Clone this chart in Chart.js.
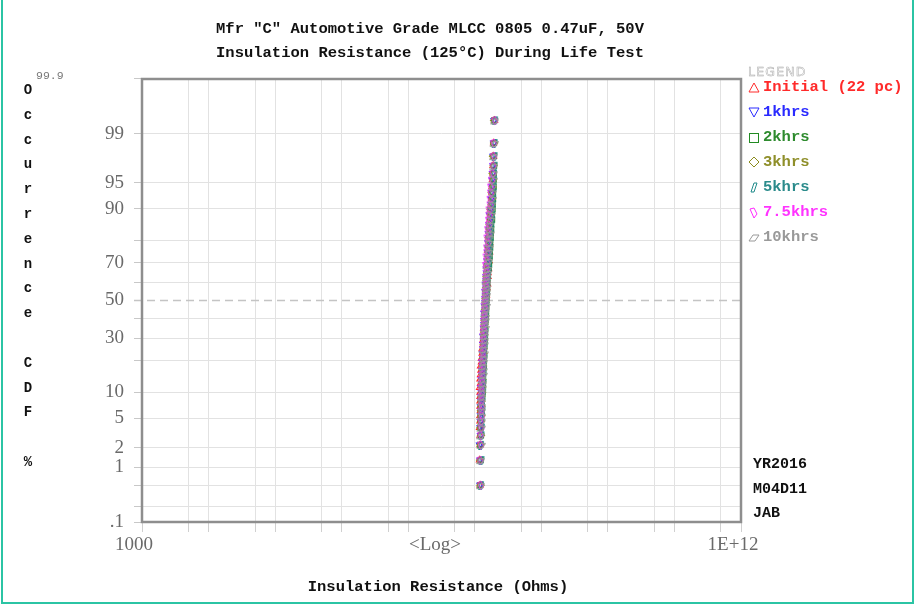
<!DOCTYPE html>
<html>
<head>
<meta charset="utf-8">
<script src="https://cdn.jsdelivr.net/npm/chart.js@4/dist/chart.umd.min.js"></script>
<style>
  body { margin: 0; background: #fff; }
  #wrap { position: relative; width: 914px; height: 606px; overflow: hidden; }
  #frameBox { position: absolute; left: 1px; top: -4px; width: 909px; height: 604px; border: 2px solid #2bc4a4; pointer-events: none; }
  .mono { font-family: 'Liberation Mono', 'Courier New', monospace; font-weight: bold; position: absolute; white-space: pre; }
  #title { left: 0; top: 17px; width: 860px; text-align: center; font-size: 15.5px; line-height: 24px; color: #111; }
  #ytitle { left: 20px; top: 78px; width: 16px; text-align: center; font-size: 14px; line-height: 24.8px; color: #111; }
  #top999 { position: absolute; left: 36px; top: 69px; font: 11.5px 'Liberation Mono', monospace; color: #777; }
  #legHead { position: absolute; left: 748px; top: 64px; font: 12.5px 'DejaVu Sans', sans-serif; letter-spacing: 1.2px; color: transparent; -webkit-text-stroke: 0.5px #a8a8a8; }
  .leg { position: absolute; left: 748px; height: 20px; display: flex; align-items: center; }
  .leg span { font-family: 'Liberation Mono', monospace; font-weight: bold; font-size: 15.5px; margin-left: 2px; }
  .side { font-size: 15px; color: #111; left: 753px; }
  #logLbl { position: absolute; left: 405px; top: 533px; width: 60px; text-align: center; font: 19px 'Liberation Serif', serif; color: #6a6a6a; }
  #xtitle { left: 238px; top: 578px; width: 400px; text-align: center; font-size: 15.5px; color: #111; }
</style>
</head>
<body>
<div id="wrap">
  <canvas id="irChart"></canvas>
  <div id="title" class="mono">Mfr "C" Automotive Grade MLCC 0805 0.47uF, 50V
Insulation Resistance (125°C) During Life Test</div>
  <div id="ytitle" class="mono">O
c
c
u
r
r
e
n
c
e

C
D
F

%</div>
  <div id="top999">99.9</div>
  <div id="legHead">LEGEND</div>
  <div id="legend"></div>
  <div class="mono side" style="top:456px">YR2016</div>
  <div class="mono side" style="top:481px">M04D11</div>
  <div class="mono side" style="top:505px">JAB</div>
  <div id="logLbl">&lt;Log&gt;</div>
  <div id="xtitle" class="mono">Insulation Resistance (Ohms)</div>
  <div id="frameBox"></div>
</div>
<script>
// cumulative occurrence (%) shared by every series
const cdfPct = [0.5, 1.3, 2.2, 3.0, 3.8, 4.6, 5.4, 6.2, 7.0, 8.0, 9.0, 10.0, 11.2, 12.4, 13.6, 15, 16.5, 18, 19.5, 21,
  23, 25, 27, 29, 31, 33, 35, 37, 39, 41, 43, 45, 47, 49, 51, 53, 55, 57, 59, 61, 63, 65, 67, 69, 71, 73, 75, 77, 79, 81,
  82.5, 84, 85.5, 87, 88.4, 89.8, 91, 92.2, 93.4, 94.4, 95.4, 96.2, 97, 97.8, 98.6, 99.4];

// insulation resistance, in units of 1E+8 Ohms
const irInitial = [1.20,1.18,1.20,1.20,1.18,1.20,1.20,1.22,1.20,1.20, 1.20,1.20,1.18,1.22,1.20,1.22,1.24,1.22,1.26,1.26,
  1.29,1.29,1.33,1.33,1.36,1.38,1.36,1.38,1.43,1.40, 1.43,1.43,1.45,1.45,1.48,1.50,1.48,1.53,1.56,1.53,
  1.58,1.58,1.61,1.58,1.64,1.61,1.67,1.64,1.67,1.64, 1.70,1.67,1.70,1.70,1.73,1.73,1.76,1.79,1.82,1.82,
  1.85,1.88,1.88,1.92,1.92,1.98];
const ir1k = [1.20,1.20,1.18,1.22,1.20,1.22,1.22,1.24,1.22,1.24, 1.24,1.26,1.24,1.29,1.26,1.29,1.29,1.31,1.29,1.33,
  1.31,1.33,1.33,1.36,1.33,1.38,1.36,1.38,1.38,1.40, 1.38,1.43,1.40,1.43,1.43,1.45,1.43,1.48,1.45,1.48,
  1.48,1.50,1.50,1.53,1.53,1.56,1.56,1.58,1.58,1.61, 1.61,1.64,1.64,1.70,1.67,1.73,1.76,1.76,1.79,1.82,
  1.82,1.85,1.88,1.88,1.92,1.95];
const ir2k = [1.20,1.22,1.20,1.24,1.22,1.24,1.24,1.26,1.24,1.26, 1.29,1.31,1.29,1.33,1.31,1.33,1.33,1.36,1.33,1.38,
  1.36,1.38,1.38,1.40,1.38,1.43,1.40,1.43,1.43,1.45, 1.43,1.48,1.45,1.48,1.48,1.50,1.48,1.53,1.50,1.53,
  1.53,1.56,1.61,1.64,1.64,1.67,1.67,1.70,1.70,1.73, 1.73,1.76,1.76,1.82,1.79,1.85,1.85,1.88,1.88,1.92,
  1.92,1.92,1.95,1.92,1.92,1.95];
const ir3k = [1.22,1.20,1.22,1.24,1.22,1.24,1.26,1.24,1.26,1.26, 1.26,1.29,1.29,1.29,1.31,1.31,1.31,1.33,1.33,1.33,
  1.36,1.36,1.36,1.38,1.38,1.38,1.40,1.40,1.40,1.43, 1.43,1.43,1.45,1.45,1.45,1.48,1.48,1.48,1.50,1.50,
  1.50,1.53,1.56,1.53,1.58,1.58,1.58,1.61,1.64,1.61, 1.67,1.67,1.67,1.73,1.73,1.73,1.79,1.82,1.79,1.85,
  1.88,1.85,1.92,1.88,1.95,1.95];
const ir5k = [1.20,1.22,1.20,1.22,1.24,1.22,1.24,1.26,1.24,1.26, 1.26,1.29,1.26,1.31,1.29,1.31,1.31,1.33,1.31,1.36,
  1.33,1.36,1.36,1.38,1.36,1.40,1.38,1.40,1.40,1.43, 1.43,1.43,1.45,1.45,1.45,1.48,1.48,1.50,1.50,1.53,
  1.53,1.56,1.58,1.58,1.61,1.61,1.64,1.64,1.67,1.67, 1.70,1.70,1.73,1.76,1.76,1.79,1.82,1.82,1.85,1.85,
  1.88,1.88,1.92,1.92,1.92,1.95];
const ir7k5 = [1.20,1.18,1.20,1.20,1.22,1.20,1.24,1.22,1.24,1.22, 1.22,1.24,1.22,1.26,1.24,1.26,1.26,1.29,1.26,1.31,
  1.29,1.31,1.31,1.33,1.31,1.36,1.33,1.36,1.36,1.38, 1.36,1.40,1.38,1.40,1.40,1.43,1.40,1.45,1.43,1.45,
  1.45,1.48,1.45,1.43,1.48,1.45,1.50,1.48,1.53,1.50, 1.56,1.53,1.58,1.58,1.61,1.61,1.67,1.67,1.70,1.70,
  1.76,1.82,1.85,1.88,1.88,1.95];
const ir10k = [1.20,1.20,1.22,1.20,1.22,1.24,1.22,1.24,1.26,1.24, 1.24,1.26,1.29,1.29,1.26,1.31,1.31,1.29,1.33,1.33,
  1.36,1.31,1.36,1.38,1.36,1.36,1.40,1.38,1.40,1.43, 1.38,1.43,1.45,1.43,1.43,1.48,1.45,1.48,1.50,1.45,
  1.50,1.53,1.53,1.50,1.58,1.56,1.58,1.61,1.58,1.61, 1.67,1.64,1.64,1.70,1.73,1.73,1.73,1.79,1.82,1.82,
  1.85,1.88,1.88,1.88,1.92,1.95];

const seriesNames = ['Initial (22 pc)', '1khrs', '2khrs', '3khrs', '5khrs', '7.5khrs', '10khrs'];
const seriesData = [irInitial, ir1k, ir2k, ir3k, ir5k, ir7k5, ir10k];
const seriesColors = ['#ff2a2a', '#2a2aff', '#228b22', '#8c8c1e', '#1f8a8a', '#ff2aff', '#999999'];
const textColors = ['#ff2a2a', '#2a2aff', '#2e8b2e', '#8f8f2a', '#2b8b8b', '#ff33ff', '#999999'];

// axis grid / labels
const yGridPct = [0.1, 0.2, 0.5, 1, 2, 5, 10, 20, 30, 40, 50, 60, 70, 80, 90, 95, 99, 99.9];
const yLabels = { 0.1: '.1', 1: '1', 2: '2', 5: '5', 10: '10', 30: '30', 50: '50', 70: '70', 90: '90', 95: '95', 99: '99' };
const xGrid = [1e3, 5e3, 1e4, 5e4, 1e5, 5e5, 1e6, 5e6, 1e7, 5e7, 1e8, 5e8, 1e9, 5e9, 1e10, 5e10, 1e11, 5e11, 1e12];

// inverse normal cdf (Acklam) for the probability axis
function probit(p) {
  const a = [-3.969683028665376e+01, 2.209460984245205e+02, -2.759285104469687e+02, 1.383577518672690e+02, -3.066479806614716e+01, 2.506628277459239e+00];
  const b = [-5.447609879822406e+01, 1.615858368580409e+02, -1.556989798598866e+02, 6.680131188771972e+01, -1.328068155288572e+01];
  const c = [-7.784894002430293e-03, -3.223964580411365e-01, -2.400758277161838e+00, -2.549732539343734e+00, 4.374664141464968e+00, 2.938163982698783e+00];
  const d = [7.784695709041462e-03, 3.224671290700398e-01, 2.445134137142996e+00, 3.754408661907416e+00];
  const pl = 0.02425;
  if (p < pl) {
    const q = Math.sqrt(-2 * Math.log(p));
    return (((((c[0]*q+c[1])*q+c[2])*q+c[3])*q+c[4])*q+c[5]) / ((((d[0]*q+d[1])*q+d[2])*q+d[3])*q+1);
  }
  if (p > 1 - pl) {
    const q = Math.sqrt(-2 * Math.log(1 - p));
    return -(((((c[0]*q+c[1])*q+c[2])*q+c[3])*q+c[4])*q+c[5]) / ((((d[0]*q+d[1])*q+d[2])*q+d[3])*q+1);
  }
  const q = p - 0.5, r = q * q;
  return (((((a[0]*r+a[1])*r+a[2])*r+a[3])*r+a[4])*r+a[5])*q / (((((b[0]*r+b[1])*r+b[2])*r+b[3])*r+b[4])*r+1);
}

// marker shapes (outline polygons in a 10x10 box)
const shapes = [
  null, null, null, null,
  [[3,9],[5,1],[8,1],[6,9]],        // 5khrs leaning
  [[2,2],[6,1],[8,6],[5,9]],        // 7.5khrs kite
  [[1,8],[4,3],[9,3],[6,8]]         // 10khrs flat
];
function shapeCanvas(pts, color) {
  const cv = document.createElement('canvas');
  cv.width = 10; cv.height = 10;
  const g = cv.getContext('2d');
  g.strokeStyle = color; g.lineWidth = 1;
  g.beginPath();
  pts.forEach((p, i) => i ? g.lineTo(p[0] + 0.5, p[1] + 0.5) : g.moveTo(p[0] + 0.5, p[1] + 0.5));
  g.closePath(); g.stroke();
  return cv;
}
const pointStyles = ['triangle', 'triangle', 'rect', 'rectRot',
  shapeCanvas(shapes[4], seriesColors[4]), shapeCanvas(shapes[5], seriesColors[5]), shapeCanvas(shapes[6], seriesColors[6])];

// legend
const legSvg = [
  '<polygon points="1,11 6,2 11,11" />',
  '<polygon points="1,2 11,2 6,11" />',
  '<rect x="1.5" y="2.5" width="9" height="9" />',
  '<polygon points="6,1 11,6 6,11 1,6" />',
  '<polygon points="3,11 6,2 9,2 6,11" />',
  '<polygon points="2,3 6,2 9,8 6,12" />',
  '<polygon points="1,10 5,4 11,4 7,10" />'
];
const legend = document.getElementById('legend');
seriesNames.forEach((n, i) => {
  const row = document.createElement('div');
  row.className = 'leg';
  row.style.top = (77 + 25 * i) + 'px';
  row.innerHTML = '<svg width="13" height="13"><g fill="none" stroke="' + seriesColors[i] + '" stroke-width="1">' + legSvg[i] +
    '</g></svg><span style="color:' + textColors[i] + '">' + n + '</span>';
  legend.appendChild(row);
});

const plotDecor = {
  id: 'plotDecor',
  beforeDatasetsDraw(chart) {
    const { ctx, chartArea: a } = chart;
    const y = chart.scales.y.getPixelForValue(0);
    ctx.save();
    ctx.strokeStyle = '#c4c4c4';
    ctx.lineWidth = 1.5;
    ctx.setLineDash([8, 5]);
    ctx.beginPath();
    ctx.moveTo(a.left - 8, y);
    ctx.lineTo(a.right, y);
    ctx.stroke();
    ctx.restore();
  },
  afterDraw(chart) {
    const { ctx, chartArea: a } = chart;
    ctx.save();
    ctx.strokeStyle = '#8e8e8e';
    ctx.lineWidth = 2.5;
    ctx.strokeRect(a.left, a.top, a.right - a.left, a.bottom - a.top);
    ctx.restore();
  }
};

const datasets = seriesData.map((vals, i) => ({
  label: seriesNames[i],
  data: vals.map((v, k) => ({ x: v * 1e8, y: probit(cdfPct[k] / 100) })),
  pointStyle: pointStyles[i],
  rotation: i === 1 ? 180 : 0,
  pointRadius: 3.6,
  borderColor: seriesColors[i],
  backgroundColor: 'rgba(0,0,0,0)',
  borderWidth: 1.1,
  showLine: false,
  order: 6 - i
}));

new Chart(document.getElementById('irChart'), {
  type: 'scatter',
  data: { datasets },
  plugins: [plotDecor],
  options: {
    responsive: true,
    maintainAspectRatio: false,
    animation: false,
    layout: { padding: { top: 79, right: 173, left: 0, bottom: 0 } },
    plugins: { legend: { display: false }, tooltip: { enabled: false } },
    scales: {
      x: {
        type: 'logarithmic',
        min: 1e3,
        max: 1e12,
        afterBuildTicks: s => { s.ticks = xGrid.map(v => ({ value: v })); },
        afterFit: s => { s.height = 84; },
        border: { display: false },
        grid: { color: '#e2e2e2', tickColor: '#d0d0d0', tickLength: 10 },
        ticks: {
          autoSkip: false, maxRotation: 0, padding: 2, labelOffset: -8,
          color: '#6a6a6a', font: { family: 'Liberation Serif', size: 19 },
          callback: v => v === 1e3 ? '1000' : (v === 1e12 ? '1E+12' : '')
        }
      },
      y: {
        type: 'linear',
        min: probit(0.001),
        max: probit(0.999),
        afterBuildTicks: s => { s.ticks = yGridPct.map(p => ({ value: probit(p / 100) })); },
        afterFit: s => { s.width = 142; },
        border: { display: false },
        grid: {
          color: c => (c.tick && Math.abs(c.tick.value) < 1e-6) ? 'rgba(0,0,0,0)' : '#e2e2e2',
          tickColor: '#c8c8c8', tickLength: 8
        },
        ticks: {
          autoSkip: false, padding: 10,
          color: '#6a6a6a', font: { family: 'Liberation Serif', size: 19 },
          callback: (v, i) => yLabels[yGridPct[i]] || ''
        }
      }
    }
  }
});
</script>
</body>
</html>
